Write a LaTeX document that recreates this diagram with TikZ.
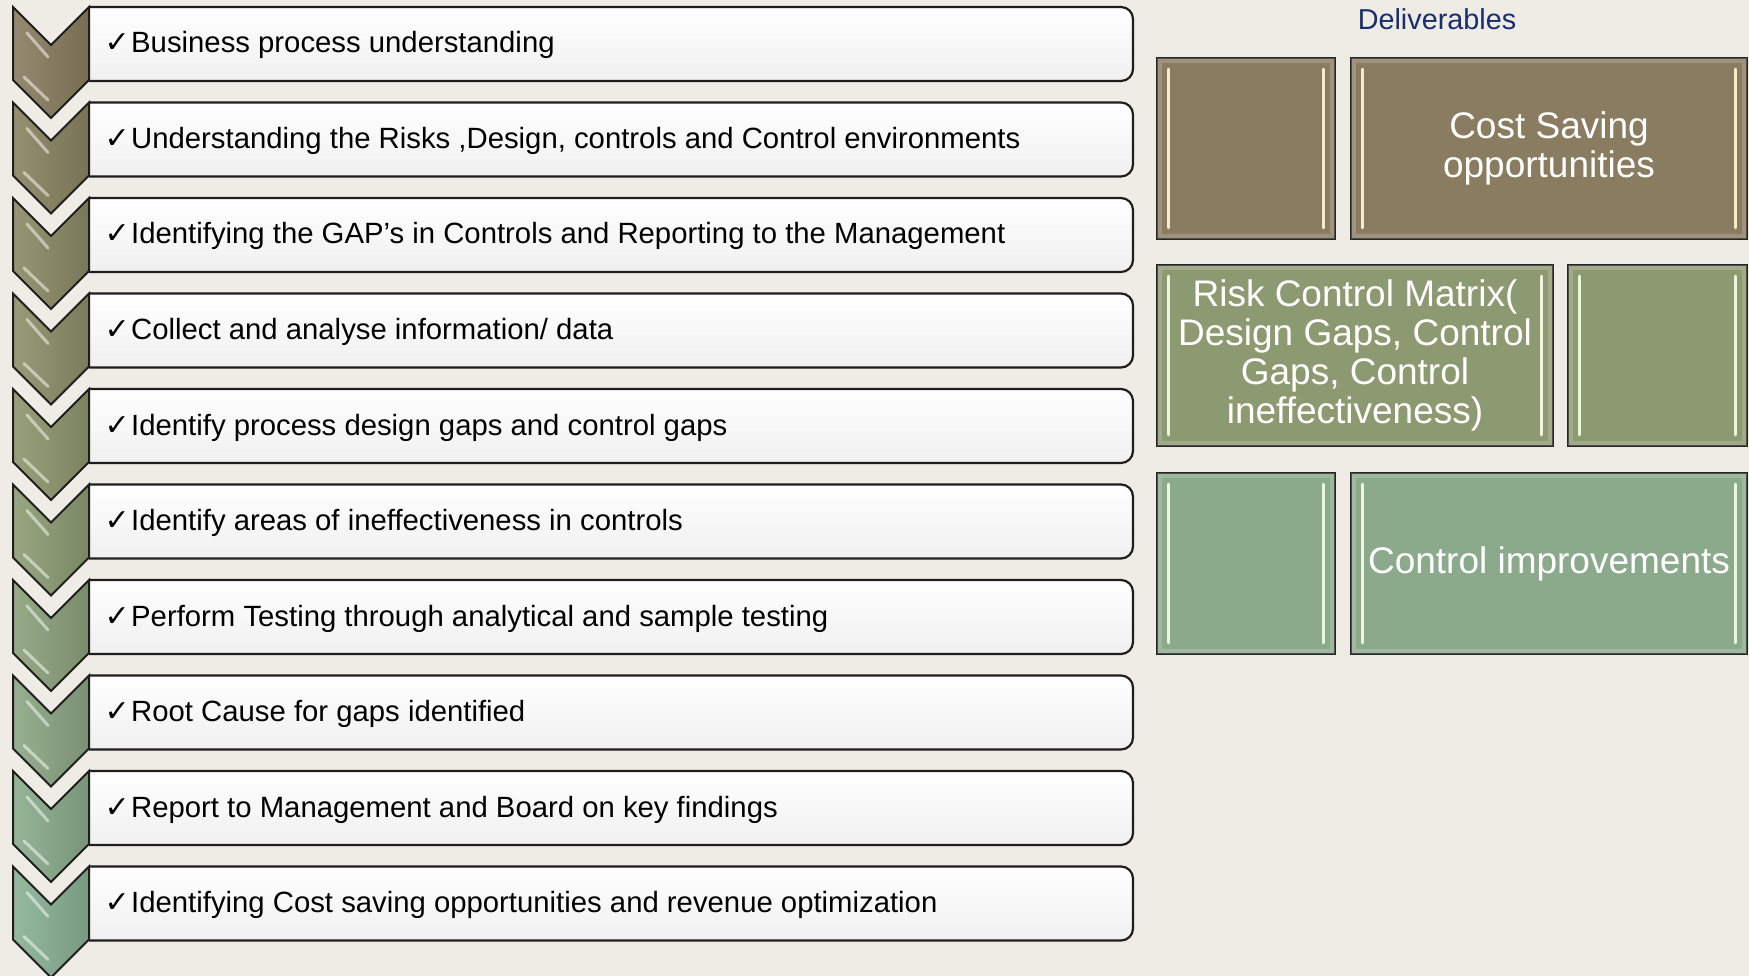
\documentclass[tikz,border=0pt]{standalone}
\usepackage{fontspec}
\setmainfont{Liberation Sans}
\newfontfamily\chkfont{DejaVu Sans}
\definecolor{bgc}{RGB}{239,236,229}
\definecolor{brownc}{RGB}{138,124,96}
\definecolor{olivec}{RGB}{141,153,112}
\definecolor{sagec}{RGB}{139,170,139}
\definecolor{chevtop}{RGB}{140,128,98}
\definecolor{chevmid}{RGB}{144,156,114}
\definecolor{chevbot}{RGB}{140,180,150}
\definecolor{navy}{RGB}{24,46,110}
\definecolor{rowedge}{RGB}{30,30,30}
\definecolor{creamhl}{RGB}{246,236,205}
\definecolor{greenhl}{RGB}{236,246,222}
\begin{document}
\begin{tikzpicture}[x=1pt,y=-1pt,
  rowtext/.style={anchor=base west, inner sep=0pt, font=\fontsize{29.3}{32}\selectfont, text=black},
  chkmark/.style={anchor=base east, inner sep=0pt, font=\chkfont\bfseries\fontsize{30}{30}\selectfont, text=black},
  delbox/.style={draw=black!85, line width=1.8pt, inner sep=0pt, text=white, align=center, font=\fontsize{37}{39}\selectfont},
  hilite/.style={line width=3pt, line cap=round},
]
\fill[bgc] (0,0) rectangle (1749,976);
\useasboundingbox (0,0) rectangle (1749,976);

\foreach [count=\i from 0] \txt in {
  {Business process understanding},
  {Understanding the Risks ,Design, controls and Control environments},
  {Identifying the GAP’s in Controls and Reporting to the Management},
  {Collect and analyse information/ data},
  {Identify process design gaps and control gaps},
  {Identify areas of ineffectiveness in controls},
  {Perform Testing through analytical and sample testing},
  {Root Cause for gaps identified},
  {Report to Management and Board on key findings},
  {Identifying Cost saving opportunities and revenue optimization}}{
  \pgfmathsetmacro{\t}{7+95.5*\i}
  \ifnum\i<5
    \pgfmathtruncatemacro{\p}{\i*100/4.5}
    \colorlet{chevc}{chevmid!\p!chevtop}
  \else
    \pgfmathtruncatemacro{\p}{(\i-4.5)*100/4.5}
    \colorlet{chevc}{chevbot!\p!chevmid}
  \fi
  % row box
  \shade[top color=white, bottom color=black!6, rounded corners=12pt]
    (89,\t) -- (1133,\t) -- (1133,\t+74) -- (89,\t+74);
  \draw[rowedge, line width=2.2pt, rounded corners=12pt]
    (89,\t) -- (1133,\t) -- (1133,\t+74) -- (89,\t+74);
  % chevron
  \shade[left color=chevc!92!white, middle color=chevc, right color=chevc!85!black]
    (13,\t) -- (51,\t+38) -- (89,\t) -- (89,\t+73) -- (51,\t+111) -- (13,\t+73) -- cycle;
  \draw[white, opacity=.5, hilite] (27,\t+26) -- (48,\t+50);
  \draw[white, opacity=.5, hilite] (24,\t+70) -- (48,\t+93);
  \draw[rowedge, line width=2pt, line join=miter]
    (13,\t) -- (51,\t+38) -- (89,\t) -- (89,\t+73) -- (51,\t+111) -- (13,\t+73) -- cycle;
  \node[chkmark] (c\i) at (130,\t+46) {✓};
  \node[rowtext] (r\i) at (131,\t+46) {\txt};
}

\node[font=\fontsize{28.8}{30}\selectfont, text=navy] (dl) at (1437,19) {Deliverables};

\node[delbox, fill=brownc, minimum width=178pt, minimum height=181pt] (d1) at (1246,148.5) {};
\node[delbox, fill=brownc, minimum width=396pt, minimum height=181pt] (d2) at (1549,148.5) {Cost Saving\\opportunities};
\node[delbox, fill=olivec, minimum width=396pt, minimum height=181pt] (d3) at (1355,355.5) {Risk Control Matrix(\\Design Gaps, Control\\Gaps, Control\\ineffectiveness)};
\node[delbox, fill=olivec, minimum width=179pt, minimum height=181pt] (d4) at (1657.5,355.5) {};
\node[delbox, fill=sagec, minimum width=178pt, minimum height=181pt] (d5) at (1246,563.5) {};
\node[delbox, fill=sagec, minimum width=396pt, minimum height=181pt] (d6) at (1549,563.5) {Control improvements};

\foreach \b/\hc in {d1/creamhl,d2/creamhl,d3/greenhl,d4/greenhl,d5/greenhl,d6/greenhl}{
  \draw[white, opacity=.18, line width=5pt] ([xshift=3.5pt,yshift=-3.5pt]\b.north west) rectangle ([xshift=-3.5pt,yshift=3.5pt]\b.south east);
  \draw[hilite, \hc] ([xshift=12pt,yshift=-12pt]\b.north west) -- ([xshift=12pt,yshift=12pt]\b.south west);
  \draw[hilite, \hc] ([xshift=-12pt,yshift=-12pt]\b.north east) -- ([xshift=-12pt,yshift=12pt]\b.south east);
}
\end{tikzpicture}
\end{document}
